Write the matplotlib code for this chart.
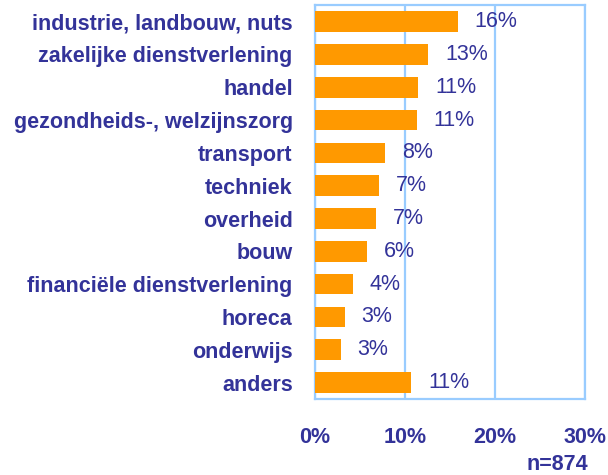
import matplotlib.pyplot as plt

# -----------------------------
# Data
# -----------------------------
categories = ['industrie, landbouw, nuts', 'zakelijke dienstverlening', 'handel',
              'gezondheids-, welzijnszorg', 'transport', 'techniek', 'overheid',
              'bouw', 'financiële dienstverlening', 'horeca', 'onderwijs', 'anders']
values = [15.9, 12.6, 11.5, 11.3, 7.8, 7.1, 6.8, 5.8, 4.2, 3.3, 2.9, 10.7]
value_labels = ['16%', '13%', '11%', '11%', '8%', '7%', '7%', '6%', '4%', '3%', '3%', '11%']
xticks = [0, 10, 20, 30]
xtick_labels = ['0%', '10%', '20%', '30%']

text_col = '#333399'
bar_col = '#FF9900'
grid_col = '#99CCFF'
fs = 15.5

plt.rcParams['font.family'] = ['Liberation Sans', 'DejaVu Sans']

# -----------------------------
# Plot
# -----------------------------
fig = plt.figure(figsize=(6.08, 4.75), dpi=100)
ax = fig.add_axes([0.518, 0.16, 0.444, 0.829])

y = list(range(len(categories)))
ax.barh(y, values, height=0.63, color=bar_col, zorder=3)

for yi, v, lab in zip(y, values, value_labels):
    ax.annotate(lab, (v, yi), xytext=(12, 0), textcoords='offset points',
                ha='left', va='center', fontsize=fs, color=text_col, zorder=4)

ax.set_xlim(0, 30)
ax.set_ylim(len(categories) - 0.5, -0.5)
ax.set_yticks(y)
ax.set_yticklabels(categories, fontsize=fs, fontweight='bold', color=text_col)
ax.set_xticks(xticks)
ax.set_xticklabels(xtick_labels, fontsize=fs, fontweight='bold', color=text_col)
ax.tick_params(axis='y', length=0, pad=16)
ax.tick_params(axis='x', length=0, pad=20)

for s in ax.spines.values():
    s.set_color(grid_col)
    s.set_linewidth(1.6)
ax.grid(axis='x', color=grid_col, linewidth=1.6, zorder=1)

fig.text(0.967, 0.022, 'n=874', ha='right', va='center', fontsize=fs,
         fontweight='bold', color=text_col)

fig.savefig('out.png', dpi=100)
